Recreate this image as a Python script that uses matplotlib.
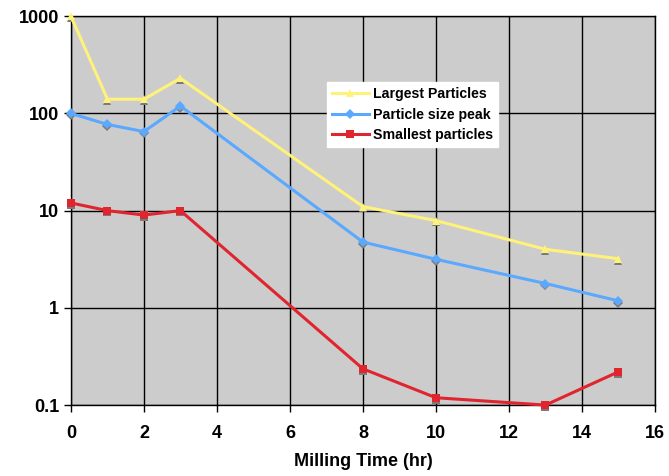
import matplotlib
matplotlib.use("Agg")
import matplotlib.pyplot as plt
import matplotlib.transforms as mtransforms
from matplotlib.ticker import FixedLocator, NullLocator

hours = [0, 1, 2, 3, 8, 10, 13, 15]
largest = [1000, 140, 140, 230, 11, 7.9, 4.0, 3.2]
peak = [100, 77, 65, 119, 4.75, 3.16, 1.78, 1.18]
smallest = [12, 10, 9, 10, 0.236, 0.119, 0.1, 0.22]
series_names = ["Largest Particles", "Particle size peak", "Smallest particles"]
x_ticks = [0, 2, 4, 6, 8, 10, 12, 14, 16]
y_ticks = [0.1, 1, 10, 100, 1000]
y_labels = ["0.1", "1", "10", "100", "1000"]

plt.rcParams['font.family'] = ['Liberation Sans', 'DejaVu Sans']
plt.rcParams['font.weight'] = 'bold'

fig = plt.figure(figsize=(6.69, 4.76), dpi=100)
ax = fig.add_axes([0.106, 0.149, 0.873, 0.817])
ax.set_facecolor('#CCCCCC')
ax.set_yscale('log')
ax.set_xlim(0, 16)
ax.set_ylim(0.1, 1000)

styles = [
    (largest, '#FFF27A', '^', 6),
    (peak, '#5BA8FF', 'D', 5.5),
    (smallest, '#E0252F', 's', 5.5),
]
shadow = mtransforms.offset_copy(ax.transData, fig=fig, x=0, y=-1.3, units='points')
for (vals, col, mk, ms), name in zip(styles, series_names):
    ax.plot(hours, vals, linestyle='none', marker=mk, markersize=ms,
            color='#7A7A7A', markeredgewidth=0, transform=shadow, zorder=3, clip_on=False)
    ax.plot(hours, vals, color=col, linewidth=2.2, marker=mk, markersize=ms,
            markeredgewidth=0, label=name, zorder=4, clip_on=False)

ax.xaxis.set_major_locator(FixedLocator(x_ticks))
ax.yaxis.set_major_locator(FixedLocator(y_ticks))
ax.yaxis.set_minor_locator(NullLocator())
ax.set_yticklabels(y_labels)
ax.tick_params(axis='both', labelsize=13, length=5, width=1, direction='out', color='black')
ax.tick_params(axis='x', pad=9)
ax.grid(True, which='major', color='black', linewidth=1)
ax.set_axisbelow(True)
for s in ax.spines.values():
    s.set_color('black')
    s.set_linewidth(1)
for lab in ax.get_xticklabels() + ax.get_yticklabels():
    lab.set_fontweight('bold')

ax.set_xlabel('Milling Time (hr)', fontsize=13, fontweight='bold', labelpad=8)

leg = ax.legend(loc='upper left', bbox_to_anchor=(0.438, 0.83), fontsize=10.2,
                frameon=True, fancybox=False, framealpha=1, edgecolor='white',
                facecolor='white', handlelength=2.6, borderpad=0.35,
                labelspacing=0.45, handletextpad=0.3, borderaxespad=0)
for t in leg.get_texts():
    t.set_fontweight('bold')

fig.savefig('out.png', dpi=100)
